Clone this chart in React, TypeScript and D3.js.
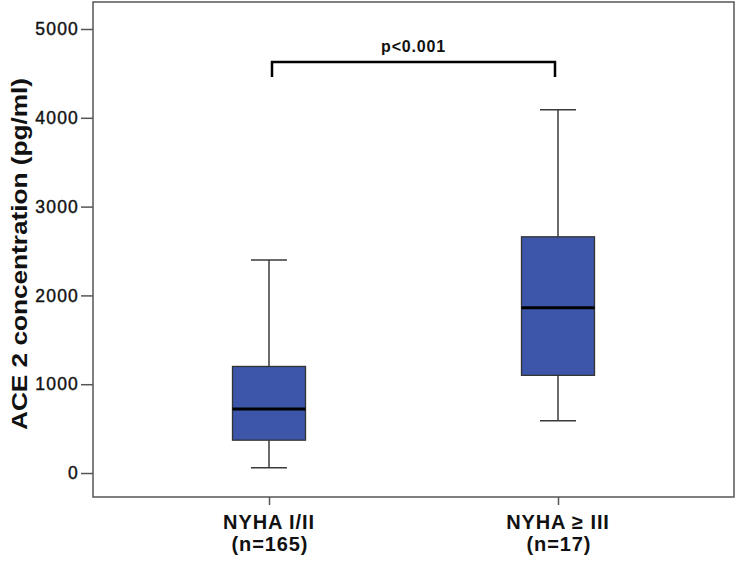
import React, { useEffect, useRef } from "react";
import * as d3 from "d3";

// box plot summary per group (pg/ml)
const groups = ["NYHA I/II", "NYHA ≥ III"];
const sampleSizes = ["(n=165)", "(n=17)"];
const minValues = [60, 590];
const q1Values = [370, 1100];
const medianValues = [720, 1860];
const q3Values = [1200, 2660];
const maxValues = [2400, 4090];
const yTicks = [0, 1000, 2000, 3000, 4000, 5000];
const pLabel = "p<0.001";
const yTitle = "ACE 2 concentration (pg/ml)";

const W = 738;
const H = 561;
const FONT = "'Liberation Sans', Arial, Helvetica, sans-serif";

const App = () => {
  const svgRef = useRef<SVGSVGElement>(null);

  useEffect(() => {
    const svg = d3.select(svgRef.current);
    svg.selectAll("*").remove();

    const left = 93;
    const right = 734;
    const top = 2;
    const bottom = 497;

    const x = d3.scalePoint().domain(groups).range([left, right]).padding(0.609);
    const y = d3.scaleLinear().domain([-270, 5304]).range([bottom, top]);

    svg.append("rect").attr("width", W).attr("height", H).attr("fill", "#fff");

    const boxes = groups.map((g, i) => ({
      g,
      min: minValues[i],
      q1: q1Values[i],
      med: medianValues[i],
      q3: q3Values[i],
      max: maxValues[i],
    }));

    const boxW = 73;
    const capW = 36;
    const plot = svg.append("g");

    boxes.forEach((b) => {
      const cx = x(b.g)!;
      // whiskers and caps
      const wg = plot.append("g").attr("stroke", "#3a3a3a").attr("stroke-width", 1.5);
      wg.append("line").attr("x1", cx).attr("x2", cx).attr("y1", y(b.max)).attr("y2", y(b.q3));
      wg.append("line").attr("x1", cx).attr("x2", cx).attr("y1", y(b.q1)).attr("y2", y(b.min));
      wg.append("line").attr("x1", cx - capW / 2).attr("x2", cx + capW / 2).attr("y1", y(b.max)).attr("y2", y(b.max));
      wg.append("line").attr("x1", cx - capW / 2).attr("x2", cx + capW / 2).attr("y1", y(b.min)).attr("y2", y(b.min));

      plot
        .append("rect")
        .attr("x", cx - boxW / 2)
        .attr("y", y(b.q3))
        .attr("width", boxW)
        .attr("height", y(b.q1) - y(b.q3))
        .attr("fill", "#3d56a9")
        .attr("stroke", "#333")
        .attr("stroke-width", 1.3);

      plot
        .append("line")
        .attr("x1", cx - boxW / 2)
        .attr("x2", cx + boxW / 2)
        .attr("y1", y(b.med))
        .attr("y2", y(b.med))
        .attr("stroke", "#000")
        .attr("stroke-width", 3);
    });

    // frame
    svg
      .append("rect")
      .attr("x", left)
      .attr("y", top)
      .attr("width", right - left)
      .attr("height", bottom - top)
      .attr("fill", "none")
      .attr("stroke", "#555")
      .attr("stroke-width", 1.5);

    // y axis
    const yAxis = svg
      .append("g")
      .attr("transform", `translate(${left},0)`)
      .call(d3.axisLeft(y).tickValues(yTicks).tickSize(12).tickPadding(2).tickFormat(d3.format("d")));
    yAxis.select(".domain").remove();
    yAxis.selectAll("line").attr("stroke", "#555").attr("stroke-width", 1.5);
    yAxis
      .selectAll("text")
      .attr("fill", "#111")
      .attr("stroke", "#111")
      .attr("stroke-width", 0.4)
      .style("font-family", FONT)
      .style("font-size", "17.5px")
      .style("letter-spacing", "1.2px");

    // x axis ticks + two-line labels
    const xAxis = svg
      .append("g")
      .attr("transform", `translate(0,${bottom})`)
      .call(d3.axisBottom(x).tickSize(8).tickFormat(() => ""));
    xAxis.select(".domain").remove();
    xAxis.selectAll("line").attr("stroke", "#555").attr("stroke-width", 1.5);

    groups.forEach((g, i) => {
      const cx = x(g)!;
      const labelStyle = (sel: d3.Selection<SVGTextElement, unknown, null, undefined>) =>
        sel
          .attr("text-anchor", "middle")
          .attr("fill", "#111")
          .style("font-family", FONT)
          .style("font-size", "20px")
          .style("font-weight", "bold")
          .style("letter-spacing", "0.9px");
      svg.append("text").call(labelStyle).attr("x", cx).attr("y", 529).text(g);
      svg.append("text").call(labelStyle).attr("x", cx + 1).attr("y", 551).text(sampleSizes[i]);
    });

    // y title
    svg
      .append("text")
      .attr("transform", `translate(27,${254}) rotate(-90)`)
      .attr("text-anchor", "middle")
      .attr("fill", "#111")
      .attr("textLength", 352)
      .attr("lengthAdjust", "spacingAndGlyphs")
      .style("font-family", FONT)
      .style("font-size", "22px")
      .style("font-weight", "bold")
      .text(yTitle);

    // significance bracket
    const bx1 = x(groups[0])! + 3;
    const bx2 = x(groups[1])! - 3;
    const by = 62;
    svg
      .append("path")
      .attr("d", `M${bx1},${by + 15}V${by}H${bx2}V${by + 15}`)
      .attr("fill", "none")
      .attr("stroke", "#000")
      .attr("stroke-width", 2.5);
    svg
      .append("text")
      .attr("x", (bx1 + bx2) / 2)
      .attr("y", 52)
      .attr("text-anchor", "middle")
      .attr("fill", "#111")
      .style("font-family", FONT)
      .style("font-size", "16px")
      .style("font-weight", "bold")
      .style("letter-spacing", "0.8px")
      .text(pLabel);
  }, []);

  return (
    <div style={{ position: "absolute", left: 0, top: 0, width: W, height: H, background: "#fff" }}>
      <svg ref={svgRef} width={W} height={H} style={{ display: "block" }}></svg>
    </div>
  );
};

export default App;
